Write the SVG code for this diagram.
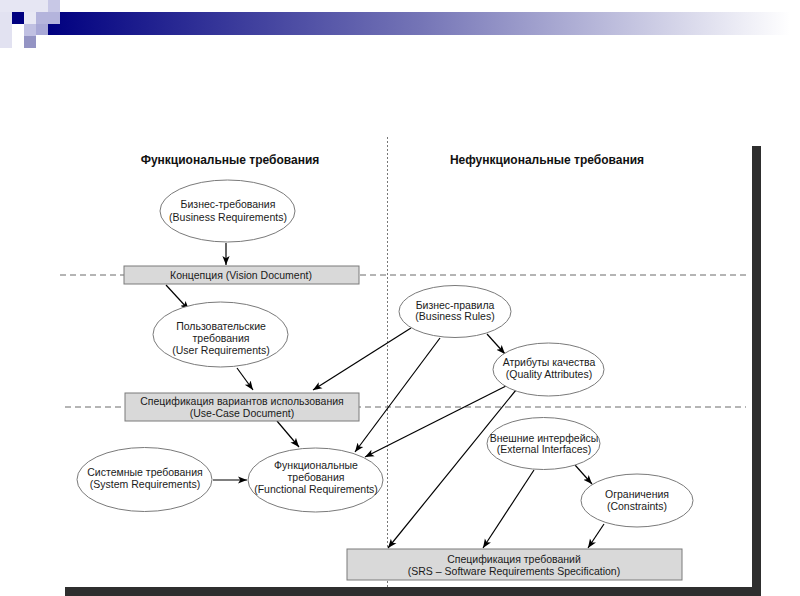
<svg xmlns="http://www.w3.org/2000/svg" width="800" height="596" viewBox="0 0 800 596">
<defs>
<linearGradient id="band" x1="0" y1="0" x2="1" y2="0">
<stop offset="0" stop-color="#000080"/>
<stop offset="0.5" stop-color="#7474b6"/>
<stop offset="1" stop-color="#ffffff"/>
</linearGradient>
<marker id="ah" viewBox="0 0 10 10" refX="10" refY="5" markerWidth="9" markerHeight="9" orient="auto" markerUnits="userSpaceOnUse">
<path d="M0,1 L10,5 L0,9 L2.5,5 z" fill="#000"/>
</marker>
</defs>
<style>
.ell{fill:#fff;stroke:#7a7a7a;stroke-width:1}
.box{fill:#d9d9d9;stroke:#7a7a7a;stroke-width:1}
.t{font-family:"Liberation Sans",Arial,sans-serif;font-size:10.5px;fill:#1a1a1a;text-anchor:middle}
.h{font-family:"Liberation Sans",Arial,sans-serif;font-size:12px;font-weight:bold;fill:#111;text-anchor:middle}
.c{stroke:#000;stroke-width:1.2;fill:none;marker-end:url(#ah)}
.dash{stroke:#6a6a6a;stroke-width:1;stroke-dasharray:6,4;fill:none}
.dot{stroke:#777;stroke-width:1;stroke-dasharray:2,2;fill:none}
</style>
<rect width="800" height="596" fill="#fff"/>
<g id="header">
<rect x="0" y="0" width="48" height="12" fill="#e6e6f3"/>
<rect x="48" y="0" width="12" height="12" fill="#c8c8e6"/>
<rect x="0" y="12" width="12" height="36" fill="#e2e2f1"/>
<rect x="48" y="12" width="742" height="23" fill="url(#band)"/>
<rect x="12" y="12" width="12" height="12" fill="#000080"/>
<rect x="24" y="12" width="12" height="12" fill="#e8e8f4"/>
<rect x="36" y="12" width="24" height="12" fill="#b4b4dc"/>
<rect x="24" y="24" width="12" height="12" fill="#c0c0e2"/>
<rect x="36" y="24" width="12" height="11" fill="#a8a8d6"/>
<rect x="24" y="36" width="12" height="12" fill="#9494c4"/>
</g>
<g id="frame">
<rect x="752" y="146" width="9" height="450" fill="#2e2e2e"/>
<rect x="65" y="587" width="696" height="9" fill="#2e2e2e"/>
</g>
<g id="separators">
<line class="dot" x1="387.5" y1="137" x2="387.5" y2="587"/>
<line class="dash" x1="60" y1="275" x2="746" y2="275"/>
<line class="dash" x1="65" y1="407" x2="746" y2="407"/>
</g>
<g id="titles">
<text class="h" x="230" y="164">Функциональные требования</text>
<text class="h" x="547" y="164">Нефункциональные требования</text>
</g>
<g id="connectors">
<line class="c" x1="226" y1="243" x2="226" y2="265"/>
<line class="c" x1="166" y1="285" x2="189" y2="310"/>
<line class="c" x1="237" y1="368" x2="253" y2="390"/>
<line class="c" x1="411" y1="328" x2="313" y2="390"/>
<line class="c" x1="440" y1="338" x2="355" y2="452"/>
<line class="c" x1="487" y1="334" x2="505" y2="354"/>
<line class="c" x1="506" y1="386" x2="365" y2="457"/>
<line class="c" x1="516" y1="390" x2="388" y2="548"/>
<line class="c" x1="277" y1="421" x2="299" y2="447"/>
<line class="c" x1="213" y1="480" x2="247" y2="480"/>
<line class="c" x1="575" y1="465" x2="592" y2="484"/>
<line class="c" x1="534" y1="470" x2="483" y2="548"/>
<line class="c" x1="604" y1="524" x2="588" y2="548"/>
</g>
<g id="business-requirements">
<ellipse class="ell" cx="227.5" cy="211" rx="67.5" ry="31"/>
<text class="t" x="228" y="208">Бизнес-требования</text>
<text class="t" x="228" y="221">(Business Requirements)</text>
</g>
<g id="vision-document">
<rect class="box" x="124" y="266" width="235" height="18"/>
<text class="t" x="241" y="279">Концепция (Vision Document)</text>
</g>
<g id="user-requirements">
<ellipse class="ell" cx="220.5" cy="334.5" rx="67.5" ry="32.5"/>
<text class="t" x="221" y="330">Пользовательские</text>
<text class="t" x="221" y="342">требования</text>
<text class="t" x="221" y="354">(User Requirements)</text>
</g>
<g id="use-case-document">
<rect class="box" x="125" y="393" width="234" height="28"/>
<text class="t" x="242" y="405">Спецификация вариантов использования</text>
<text class="t" x="242" y="417">(Use-Case Document)</text>
</g>
<g id="system-requirements">
<ellipse class="ell" cx="144.5" cy="479.5" rx="67.5" ry="32"/>
<text class="t" x="145" y="476">Системные требования</text>
<text class="t" x="145" y="488">(System Requirements)</text>
</g>
<g id="functional-requirements">
<ellipse class="ell" cx="315.5" cy="480" rx="67.5" ry="32"/>
<text class="t" x="316" y="469">Функциональные</text>
<text class="t" x="316" y="481">требования</text>
<text class="t" x="316" y="493">(Functional Requirements)</text>
</g>
<g id="business-rules">
<ellipse class="ell" cx="455" cy="311.5" rx="56" ry="26"/>
<text class="t" x="455" y="309">Бизнес-правила</text>
<text class="t" x="455" y="320">(Business Rules)</text>
</g>
<g id="quality-attributes">
<ellipse class="ell" cx="548.5" cy="369.5" rx="55.5" ry="26.5"/>
<text class="t" x="549" y="366">Атрибуты качества</text>
<text class="t" x="549" y="378">(Quality Attributes)</text>
</g>
<g id="external-interfaces">
<ellipse class="ell" cx="543.5" cy="443.5" rx="56.5" ry="26"/>
<text class="t" x="544" y="442">Внешние интерфейсы</text>
<text class="t" x="544" y="453">(External Interfaces)</text>
</g>
<g id="constraints">
<ellipse class="ell" cx="637" cy="500.5" rx="56" ry="26.5"/>
<text class="t" x="637" y="497.5">Ограничения</text>
<text class="t" x="637" y="509.5">(Constraints)</text>
</g>
<g id="srs">
<rect class="box" x="347" y="549" width="335" height="31"/>
<text class="t" x="514" y="563">Спецификация требований</text>
<text class="t" x="514" y="575">(SRS – Software Requirements Specification)</text>
</g>
</svg>
